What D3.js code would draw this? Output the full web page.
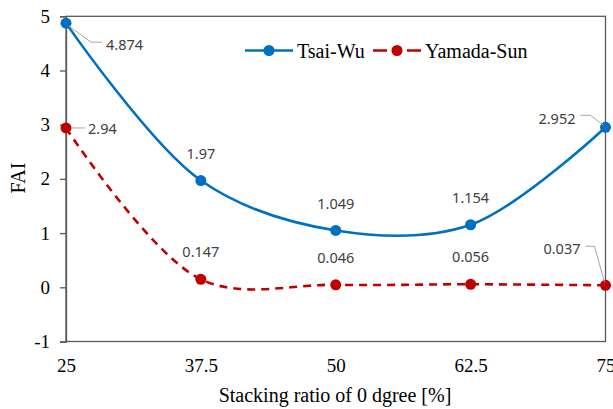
<!DOCTYPE html>
<html><head><meta charset="utf-8">
<script src="https://cdn.jsdelivr.net/npm/d3@7"></script>
<style>body{margin:0;background:#fff}svg{display:block}</style>
</head><body>
<script>
const categories = [25, 37.5, 50, 62.5, 75];
const tsaiWu = [4.874, 1.97, 1.049, 1.154, 2.952];
const yamadaSun = [2.94, 0.147, 0.046, 0.056, 0.037];
const yTicks = [-1, 0, 1, 2, 3, 4, 5];
const xTickLabels = ["25", "37.5", "50", "62.5", "75"];
const seriesNames = ["Tsai-Wu", "Yamada-Sun"];

const W = 613, H = 409;
const svg = d3.select("body").append("svg").attr("width", W).attr("height", H);
const x = d3.scaleLinear().domain([25, 75]).range([66, 605.5]);
const y = d3.scaleLinear().domain([-1, 5]).range([341.5, 16.3]);
const axisColor = "#595959";
const SERIF = '"Liberation Serif"';
const SANS = '"Noto Sans"';

// frame
svg.append("rect").attr("x", x(25)).attr("y", y(5)).attr("width", x(75) - x(25)).attr("height", y(-1) - y(5))
  .attr("fill", "none").attr("stroke", axisColor).attr("stroke-width", 1.3);

// y axis
const yAxis = d3.axisLeft(y).tickValues(yTicks).tickSize(6).tickPadding(10).tickFormat(d => String(d));
const gy = svg.append("g").attr("transform", `translate(${x(25)},0)`).call(yAxis);
gy.select(".domain").attr("stroke", axisColor).attr("stroke-width", 1.3);
gy.selectAll(".tick line").attr("stroke", axisColor).attr("stroke-width", 1.3);
gy.selectAll(".tick text").style("font-family", SERIF).style("font-size", "19px").attr("fill", "#000");

// x axis
const xAxis = d3.axisBottom(x).tickValues(categories).tickSize(0).tickPadding(17).tickFormat((d, i) => xTickLabels[i]);
const gx = svg.append("g").attr("transform", `translate(0,${y(-1)})`).call(xAxis);
gx.select(".domain").remove();
gx.selectAll(".tick text").style("font-family", SERIF).style("font-size", "19px").attr("fill", "#000");

// titles
svg.append("text").attr("x", 335).attr("y", 402).attr("text-anchor", "middle")
  .style("font-family", SERIF).style("font-size", "20px").text("Stacking ratio of 0 dgree [%]");
svg.append("text").attr("transform", "translate(25,178) rotate(-90)").attr("text-anchor", "middle")
  .style("font-family", SERIF).style("font-size", "20px").text("FAI");

const line = d3.line().x((d, i) => x(categories[i])).y(d => y(d)).curve(d3.curveCatmullRom.alpha(0.5));
const blue = "#0070C0", red = "#C00000";

svg.append("path").datum(yamadaSun).attr("d", line).attr("fill", "none").attr("stroke", red)
  .attr("stroke-width", 2.6).attr("stroke-dasharray", "8,6");
svg.append("path").datum(tsaiWu).attr("d", line).attr("fill", "none").attr("stroke", blue).attr("stroke-width", 2.6);

svg.selectAll(".mb").data(tsaiWu).enter().append("circle")
  .attr("cx", (d, i) => x(categories[i])).attr("cy", d => y(d)).attr("r", 5.5).attr("fill", blue);
svg.selectAll(".mr").data(yamadaSun).enter().append("circle")
  .attr("cx", (d, i) => x(categories[i])).attr("cy", d => y(d)).attr("r", 5.5).attr("fill", red);

// data labels
const lbl = (tx, ty, anchor, text) => svg.append("text").attr("x", tx).attr("y", ty).attr("text-anchor", anchor)
  .attr("dominant-baseline", "central").style("font-family", SANS).style("font-size", "14.5px").attr("fill", "#404040").text(text);
const leader = pts => svg.append("path").attr("d", d3.line()(pts)).attr("fill", "none").attr("stroke", "#a6a6a6").attr("stroke-width", 1);

// Tsai-Wu labels
lbl(x(25) + 40, y(tsaiWu[0]) + 21, "start", tsaiWu[0]);
leader([[x(25) + 3, y(tsaiWu[0]) + 3], [x(25) + 25, y(tsaiWu[0]) + 19], [x(25) + 36, y(tsaiWu[0]) + 19]]);
for (let i = 1; i <= 3; i++) lbl(x(categories[i]), y(tsaiWu[i]) - 27.5, "middle", tsaiWu[i]);
lbl(x(75) - 30, y(tsaiWu[4]) - 9, "end", tsaiWu[4]);
leader([[x(75) - 25, y(tsaiWu[4]) - 12], [x(75) - 15, y(tsaiWu[4]) - 12], [x(75) - 2, y(tsaiWu[4]) - 2]]);

// Yamada-Sun labels
lbl(x(25) + 22, y(yamadaSun[0]), "start", yamadaSun[0]);
leader([[x(25) + 5, y(yamadaSun[0])], [x(25) + 19, y(yamadaSun[0])]]);
for (let i = 1; i <= 3; i++) lbl(x(categories[i]), y(yamadaSun[i]) - 28, "middle", yamadaSun[i]);
lbl(x(75) - 25, y(yamadaSun[4]) - 37, "end", yamadaSun[4]);
leader([[x(75) - 20, y(yamadaSun[4]) - 39], [x(75) - 11, y(yamadaSun[4]) - 39], [x(75) - 1, y(yamadaSun[4]) - 3]]);

// legend
const lg = svg.append("g");
lg.append("line").attr("x1", 245).attr("x2", 293).attr("y1", 50.5).attr("y2", 50.5).attr("stroke", blue).attr("stroke-width", 2.6);
lg.append("circle").attr("cx", 269).attr("cy", 50.5).attr("r", 5.5).attr("fill", blue);
lg.append("text").attr("x", 297).attr("y", 50.5).attr("dominant-baseline", "central").style("font-family", SERIF).style("font-size", "20px").text(seriesNames[0]);
lg.append("line").attr("x1", 373).attr("x2", 421).attr("y1", 50.5).attr("y2", 50.5).attr("stroke", red).attr("stroke-width", 2.6).attr("stroke-dasharray", "14,10,0,10,14");
lg.append("circle").attr("cx", 397).attr("cy", 50.5).attr("r", 5.5).attr("fill", red);
lg.append("text").attr("x", 425).attr("y", 50.5).attr("dominant-baseline", "central").style("font-family", SERIF).style("font-size", "20px").text(seriesNames[1]);
</script>
</body></html>
